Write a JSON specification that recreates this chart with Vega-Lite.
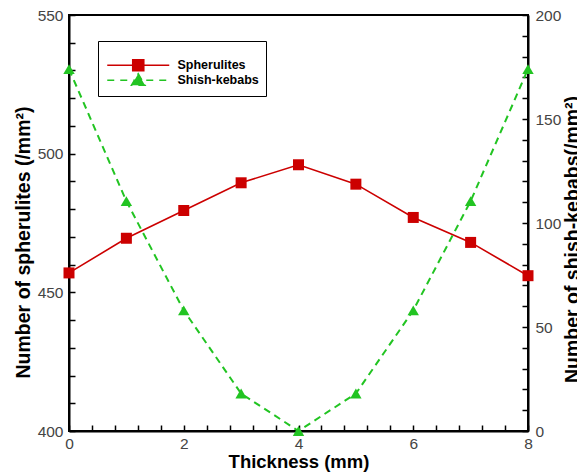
{
  "$schema": "https://vega.github.io/schema/vega-lite/v6.json",
  "width": 459,
  "height": 416,
  "autosize": {"type": "none"},
  "padding": {"left": 69, "top": 15, "right": 49, "bottom": 41},
  "background": "white",
  "config": {
    "font": "Liberation Sans",
    "view": {"stroke": "#000000", "strokeWidth": 2},
    "axis": {
      "grid": false,
      "domainColor": "#000000",
      "domainWidth": 2,
      "labelFont": "Liberation Sans",
      "labelFontSize": 15.5,
      "labelColor": "#444444",
      "labelFlush": false,
      "labelOverlap": false,
      "titleFont": "Liberation Sans",
      "titleFontWeight": "bold",
      "titleColor": "#000000"
    }
  },
  "data": {
    "values": [
      {"t": 0, "sph": 457, "shk": 174},
      {"t": 1, "sph": 469.5, "shk": 110.5},
      {"t": 2, "sph": 479.5, "shk": 58},
      {"t": 3, "sph": 489.5, "shk": 18},
      {"t": 4, "sph": 496, "shk": 0},
      {"t": 5, "sph": 489, "shk": 18},
      {"t": 6, "sph": 477, "shk": 58},
      {"t": 7, "sph": 468, "shk": 110.5},
      {"t": 8, "sph": 456, "shk": 174}
    ]
  },
  "encoding": {
    "x": {
      "field": "t",
      "type": "quantitative",
      "scale": {"domain": [0, 8], "nice": false, "zero": false},
      "axis": {
        "title": "Thickness (mm)",
        "titleFontSize": 18.5,
        "titleX": 229.5,
        "titleY": 30,
        "titleBaseline": "middle",
        "values": [0, 0.4, 0.8, 1.2, 1.6, 2, 2.4, 2.8, 3.2, 3.6, 4, 4.4, 4.8, 5.2, 5.6, 6, 6.4, 6.8, 7.2, 7.6, 8],
        "labelExpr": "datum.value % 2 === 0 ? format(datum.value, 'd') : ''",
        "ticks": true,
        "tickColor": "#000000",
        "tickWidth": 1.5,
        "tickSize": -6,
        "labelPadding": 11
      }
    }
  },
  "layer": [
    {
      "encoding": {
        "y": {
          "field": "sph",
          "type": "quantitative",
          "scale": {"domain": [400, 550], "nice": false, "zero": false},
          "axis": {
            "orient": "left",
            "title": "Number of spherulites (/mm²)",
            "titleFontSize": 19.5,
            "titleAngle": 270,
            "titleX": -46,
            "titleY": 227,
            "titleAlign": "center",
            "titleBaseline": "middle",
            "values": [400, 410, 420, 430, 440, 450, 460, 470, 480, 490, 500, 510, 520, 530, 540, 550],
            "labelExpr": "datum.value % 50 === 0 ? format(datum.value, 'd') : ''",
            "ticks": true,
            "tickColor": "#000000",
            "tickWidth": 1.5,
            "tickSize": -6,
            "labelPadding": 12
          }
        },
        "color": {
          "datum": "Spherulites",
          "type": "nominal",
          "scale": {"domain": ["Spherulites", "Shish-kebabs"], "range": ["#cc0000", "#22c422"]},
          "legend": {
            "title": " ",
            "titleFontSize": 9,
            "titlePadding": 2,
            "orient": "none",
            "legendX": 29,
            "legendY": 26,
            "padding": 7,
            "strokeColor": "#000000",
            "fillColor": "#ffffff",
            "symbolSize": 100,
            "symbolOffset": 27,
            "symbolStrokeWidth": 1.6,
            "labelOffset": 33,
            "labelFont": "Liberation Sans",
            "labelFontSize": 12.5,
            "labelFontWeight": "bold",
            "labelColor": "#000000",
            "rowPadding": -6,
            "encode": {
              "symbols": {
                "update": {
                  "shape": {"signal": "datum.value === 'Spherulites' ? 'M-6.2,0H6.2M-1.1,-1.1H1.1V1.1H-1.1Z' : 'M-6.2,0H6.2M0,-1.3L1.35,1H-1.35Z'"},
                  "strokeDash": {"signal": "datum.value === 'Spherulites' ? [] : [7, 6]"},
                  "fill": {"signal": "datum.value === 'Spherulites' ? '#cc0000' : '#22c422'"},
                  "stroke": {"signal": "datum.value === 'Spherulites' ? '#cc0000' : '#22c422'"}
                }
              }
            }
          }
        }
      },
      "layer": [
        {"mark": {"type": "line", "strokeWidth": 1.6}},
        {"mark": {"type": "point", "shape": "square", "filled": true, "size": 121, "opacity": 1}}
      ]
    },
    {
      "encoding": {
        "y": {
          "field": "shk",
          "type": "quantitative",
          "scale": {"domain": [0, 200], "nice": false, "zero": false},
          "axis": {
            "orient": "right",
            "title": "Number of shish-kebabs(/mm²)",
            "titleFontSize": 19.5,
            "titleAngle": 270,
            "titleX": 44,
            "titleY": 224,
            "titleAlign": "center",
            "titleBaseline": "middle",
            "values": [0, 10, 20, 30, 40, 50, 60, 70, 80, 90, 100, 110, 120, 130, 140, 150, 160, 170, 180, 190, 200],
            "labelExpr": "datum.value % 50 === 0 ? format(datum.value, 'd') : ''",
            "ticks": true,
            "tickColor": "#000000",
            "tickWidth": 1.5,
            "tickSize": -6,
            "labelPadding": 13
          }
        },
        "color": {"datum": "Shish-kebabs", "type": "nominal"}
      },
      "layer": [
        {"mark": {"type": "line", "strokeWidth": 2, "strokeDash": [7, 5]}},
        {"mark": {"type": "point", "shape": "triangle-up", "filled": true, "size": 130, "opacity": 1}}
      ]
    }
  ],
  "resolve": {"scale": {"y": "independent"}}
}
